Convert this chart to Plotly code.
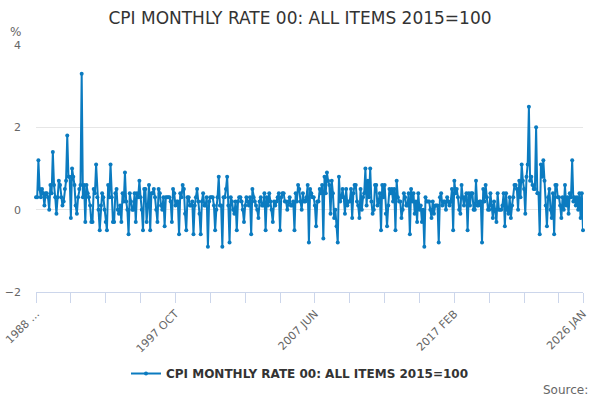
import plotly.graph_objects as go

# Monthly rate, % (Feb 1988 .. Jan 2026)
y1988 = [0.3, 0.3, 1.2, 0.5, 0.3, 0.5, 0.4, 0.1, 0.4, 0.4, 0.3]
y1989 = [0.0, 0.6, 0.4, 1.4, 0.6, 0.3, -0.1, 0.3, 0.7, 0.6, 0.3, 0.1]
y1990 = [0.2, 0.5, 0.7, 1.8, 0.8, 0.8, -0.2, 1.0, 0.8, 0.6, 0.1, -0.1]
y1991 = [0.3, 0.5, 0.6, 3.3, 0.3, 0.6, -0.3, 0.6, 0.4, 0.3, 0.1, -0.3]
y1992 = [-0.3, 0.5, 0.4, 1.1, 0.3, 0.0, -0.5, 0.1, 0.4, 0.3, 0.0, -0.3]
y1993 = [-0.5, 0.6, 0.3, 1.1, 0.3, -0.3, -0.3, 0.4, 0.5, 0.0, -0.1, 0.1]
y1994 = [-0.3, 0.4, 0.2, 0.9, 0.2, 0.0, -0.6, 0.4, 0.2, 0.0, 0.0, 0.4]
y1995 = [-0.3, 0.4, 0.3, 0.7, 0.3, 0.0, -0.5, 0.5, 0.5, -0.3, 0.1, 0.6]
y1996 = [-0.5, 0.4, 0.4, 0.5, 0.3, 0.0, -0.3, 0.5, 0.4, 0.1, 0.0, 0.3]
y1997 = [-0.4, 0.3, 0.3, 0.3, 0.3, 0.2, -0.3, 0.5, 0.4, 0.1, 0.2, 0.2]
y1998 = [-0.6, 0.4, 0.3, 0.6, 0.5, -0.1, -0.5, 0.3, 0.3, 0.1, 0.1, 0.2]
y1999 = [-0.6, 0.1, 0.3, 0.5, 0.2, -0.1, -0.6, 0.2, 0.4, 0.1, 0.1, 0.3]
y2000 = [-0.9, 0.2, 0.3, 0.3, 0.3, 0.1, -0.5, 0.0, 0.3, 0.8, 0.1, 0.1]
y2001 = [-0.9, 0.3, 0.3, 0.5, 0.8, 0.1, -0.8, 0.3, 0.2, 0.0, -0.1, 0.2]
y2002 = [-0.5, 0.2, 0.3, 0.3, 0.2, 0.0, -0.3, 0.1, 0.3, 0.2, 0.1, 0.3]
y2003 = [-0.6, 0.5, 0.3, 0.2, 0.1, 0.0, -0.2, 0.2, 0.3, 0.1, 0.1, 0.4]
y2004 = [-0.5, 0.3, 0.1, 0.4, 0.2, 0.0, -0.3, 0.2, 0.1, 0.2, 0.3, 0.4]
y2005 = [-0.5, 0.3, 0.4, 0.4, 0.2, 0.2, 0.0, 0.2, 0.3, 0.1, 0.1, 0.2]
y2006 = [-0.5, 0.4, 0.2, 0.6, 0.5, 0.2, 0.0, 0.4, 0.2, 0.2, 0.3, 0.6]
y2007 = [-0.8, 0.5, 0.4, 0.3, 0.3, 0.1, -0.4, 0.2, 0.2, 0.5, 0.4, 0.6]
y2008 = [-0.7, 0.8, 0.4, 0.9, 0.7, 0.6, -0.1, 0.7, 0.4, -0.2, 0.0, -0.4]
y2009 = [-0.8, 0.8, 0.2, 0.3, 0.5, 0.3, -0.1, 0.5, 0.1, 0.2, 0.2, 0.5]
y2010 = [-0.2, 0.4, 0.6, 0.6, 0.2, 0.1, -0.2, 0.5, 0.0, 0.3, 0.4, 1.0]
y2011 = [0.1, 0.7, 0.3, 1.0, 0.2, -0.1, 0.0, 0.6, 0.6, 0.1, 0.2, 0.4]
y2012 = [-0.5, 0.6, 0.3, 0.6, -0.1, -0.4, 0.1, 0.5, 0.4, 0.5, 0.2, 0.5]
y2013 = [-0.5, 0.7, 0.3, 0.2, 0.2, -0.2, 0.0, 0.4, 0.3, 0.1, 0.1, 0.4]
y2014 = [-0.6, 0.5, 0.2, 0.4, -0.1, 0.2, -0.3, 0.4, 0.0, 0.1, -0.3, 0.0]
y2015 = [-0.9, 0.3, 0.2, 0.2, 0.2, 0.0, -0.2, 0.2, -0.1, 0.1, 0.1, 0.1]
y2016 = [-0.8, 0.3, 0.4, 0.1, 0.2, 0.2, 0.0, 0.3, 0.2, 0.1, 0.2, 0.5]
y2017 = [-0.5, 0.7, 0.4, 0.5, 0.3, 0.0, -0.1, 0.6, 0.3, 0.1, 0.3, 0.4]
y2018 = [-0.5, 0.4, 0.1, 0.4, 0.4, 0.0, 0.0, 0.7, 0.1, 0.1, 0.2, 0.2]
y2019 = [-0.8, 0.5, 0.2, 0.6, 0.3, 0.0, 0.0, 0.4, 0.1, -0.2, 0.2, 0.0]
y2020 = [-0.3, 0.4, 0.0, 0.0, 0.0, 0.1, 0.4, -0.4, 0.4, 0.0, -0.1, 0.3]
y2021 = [-0.2, 0.1, 0.3, 0.6, 0.6, 0.5, 0.0, 0.7, 0.3, 1.1, 0.7, 0.5]
y2022 = [-0.1, 0.8, 1.1, 2.5, 0.7, 0.8, 0.6, 0.5, 0.5, 2.0, 0.4, 0.4]
y2023 = [-0.6, 1.1, 0.8, 1.2, 0.7, 0.1, -0.4, 0.3, 0.5, 0.0, -0.2, 0.4]
y2024 = [-0.6, 0.6, 0.6, 0.3, 0.3, 0.1, -0.2, 0.3, 0.0, 0.6, 0.1, 0.3]
y2025 = [-0.1, 0.4, 0.3, 1.2, 0.2, 0.3, 0.1, 0.3, 0.0, 0.4, -0.2, 0.4]
y2026 = [-0.5]

years = [y1988, y1989, y1990, y1991, y1992, y1993, y1994, y1995, y1996, y1997,
         y1998, y1999, y2000, y2001, y2002, y2003, y2004, y2005, y2006, y2007,
         y2008, y2009, y2010, y2011, y2012, y2013, y2014, y2015, y2016, y2017,
         y2018, y2019, y2020, y2021, y2022, y2023, y2024, y2025, y2026]
values = [v for yr in years for v in yr]

# month labels for the category axis
month_names = ["JAN", "FEB", "MAR", "APR", "MAY", "JUN",
               "JUL", "AUG", "SEP", "OCT", "NOV", "DEC"]
months = []
for i in range(len(values)):
    m = i + 1  # series starts in FEB 1988
    months.append(f"{1988 + m // 12} {month_names[m % 12]}")
x = list(range(len(values)))

# ticks every 29 months, labels every 4th tick plus the last one
tick_vals = list(range(0, len(values), 29)) + [len(values) - 1]
tick_text = []
for t in tick_vals:
    if t == 0:
        tick_text.append("1988 ...")
    elif t % 116 == 0 or t == len(values) - 1:
        tick_text.append(months[t])
    else:
        tick_text.append("")

blue = "#0b7bc0"
grey = "#666666"

fig = go.Figure()
fig.add_trace(go.Scatter(
    x=x, y=values, mode="lines+markers",
    name="CPI MONTHLY RATE 00: ALL ITEMS 2015=100",
    line=dict(color=blue, width=2),
    marker=dict(color=blue, size=4),
    customdata=months,
    hovertemplate="%{customdata}: %{y}<extra></extra>",
    cliponaxis=False,
))

fig.update_layout(
    width=600, height=400,
    font=dict(family="DejaVu Sans", color=grey, size=11),
    paper_bgcolor="white", plot_bgcolor="white",
    margin=dict(l=36, r=17, t=45, b=108),
    title=dict(text="CPI MONTHLY RATE 00: ALL ITEMS 2015=100",
               x=0.5, xanchor="center", y=0.955, yanchor="middle",
               font=dict(size=17, color="#333333")),
    showlegend=True,
    legend=dict(orientation="h", x=0.4826, xanchor="center",
                y=-0.33, yanchor="middle",
                font=dict(size=12, color="#333333", weight="bold")),
)

fig.update_xaxes(
    range=[0, len(values) - 1], automargin=False,
    tickmode="array", tickvals=tick_vals, ticktext=tick_text,
    tickangle=-45, ticks="outside", ticklen=10, tickcolor="#ccd6eb",
    showline=True, linecolor="#ccd6eb", linewidth=1,
    showgrid=False, zeroline=False,
    tickfont=dict(size=11, color=grey),
)
fig.update_yaxes(
    range=[-2, 4], tickvals=[-2, 0, 2, 4], automargin=False,
    showgrid=True, gridcolor="#e6e6e6", gridwidth=1,
    zeroline=False, showline=False,
    ticklabelstandoff=14,
    tickfont=dict(size=11, color=grey),
)

fig.add_annotation(text="%", xref="paper", yref="paper",
                   x=-0.038, y=1.053, xanchor="center", yanchor="middle",
                   showarrow=False, font=dict(size=12, color=grey))
fig.add_annotation(text="Source:", xref="paper", yref="paper",
                   x=1.013, y=-0.397, xanchor="right", yanchor="middle",
                   showarrow=False, font=dict(size=12, color=grey))

# page body has a default 8px margin; drop it so the chart fills the window
fig.write_html("out.html", config={"displayModeBar": False},
               post_script="document.body.style.margin = '0';")
